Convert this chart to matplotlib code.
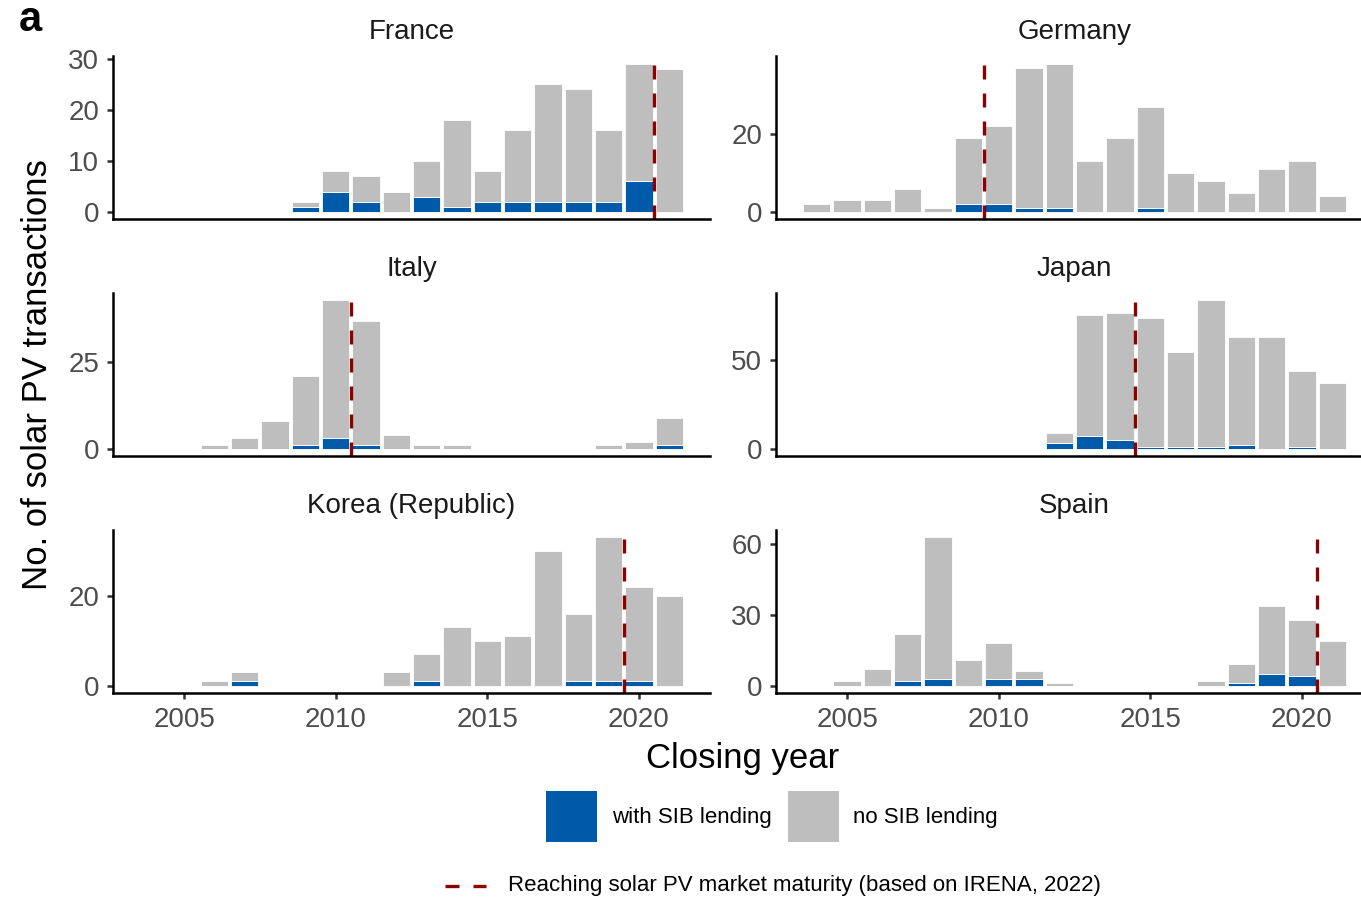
import numpy as np
import matplotlib
matplotlib.use('Agg')
import matplotlib.pyplot as plt
from matplotlib.patches import Rectangle
from matplotlib.lines import Line2D

plt.rcParams['font.family'] = ['Liberation Sans', 'DejaVu Sans']

W, H = 1361, 897

# closing years 2004 .. 2021
years = np.arange(2004, 2022)

countries = ['France', 'Germany', 'Italy', 'Japan', 'Korea (Republic)', 'Spain']

# transactions with / without SIB lending, one value per year
france_sib = [0, 0, 0, 0, 0, 1, 4, 2, 0, 3, 1, 2, 2, 2, 2, 2, 6, 0]
france_no = [0, 0, 0, 0, 0, 1, 4, 5, 4, 7, 17, 6, 14, 23, 22, 14, 23, 28]
germany_sib = [0, 0, 0, 0, 0, 2, 2, 1, 1, 0, 0, 1, 0, 0, 0, 0, 0, 0]
germany_no = [2, 3, 3, 6, 1, 17, 20, 36, 37, 13, 19, 26, 10, 8, 5, 11, 13, 4]
italy_sib = [0, 0, 0, 0, 0, 1, 3, 1, 0, 0, 0, 0, 0, 0, 0, 0, 0, 1]
italy_no = [0, 0, 1, 3, 8, 20, 40, 36, 4, 1, 1, 0, 0, 0, 0, 1, 2, 8]
japan_sib = [0, 0, 0, 0, 0, 0, 0, 0, 3, 7, 5, 1, 1, 1, 2, 0, 1, 0]
japan_no = [0, 0, 0, 0, 0, 0, 0, 0, 6, 69, 72, 73, 54, 83, 61, 63, 43, 37]
korea_sib = [0, 0, 0, 1, 0, 0, 0, 0, 0, 1, 0, 0, 0, 0, 1, 1, 1, 0]
korea_no = [0, 0, 1, 2, 0, 0, 0, 0, 3, 6, 13, 10, 11, 30, 15, 32, 21, 20]
spain_sib = [0, 0, 0, 2, 3, 0, 3, 3, 0, 0, 0, 0, 0, 0, 1, 5, 4, 0]
spain_no = [0, 2, 7, 20, 60, 11, 15, 3, 1, 0, 0, 0, 0, 2, 8, 29, 24, 19]

# market maturity (IRENA, 2022)
maturity_year = [2020.5, 2009.5, 2010.5, 2014.5, 2019.5, 2020.5]

y_ticks = [[0, 10, 20, 30], [0, 20], [0, 25], [0, 50], [0, 20], [0, 30, 60]]
x_ticks = [2005, 2010, 2015, 2020]

sib_counts = [france_sib, germany_sib, italy_sib, japan_sib, korea_sib, spain_sib]
no_counts = [france_no, germany_no, italy_no, japan_no, korea_no, spain_no]

SIB_COLOR = '#005AAA'
NO_SIB_COLOR = '#BEBEBE'
LINE_COLOR = '#8B0000'
TICK_COLOR = '#4D4D4D'

fig = plt.figure(figsize=(W / 100, H / 100), dpi=100)

# panel boxes in pixels
col_left = [113, 776]
row_top = [56.5, 293, 530]
panel_w = 597
panel_h = 163

x_lo, x_hi = 2002.655, 2022.345

for i, country in enumerate(countries):
    row, col = divmod(i, 2)
    ax = fig.add_axes([col_left[col] / W, 1 - (row_top[row] + panel_h) / H,
                       panel_w / W, panel_h / H])
    sib = np.array(sib_counts[i])
    no = np.array(no_counts[i])
    m = sib > 0
    ax.bar(years[m], sib[m], width=0.9, color=SIB_COLOR, edgecolor='white', linewidth=0.6)
    m = no > 0
    ax.bar(years[m], no[m], bottom=sib[m], width=0.9, color=NO_SIB_COLOR,
           edgecolor='white', linewidth=0.6)
    ax.axvline(maturity_year[i], color=LINE_COLOR, lw=2.4, dashes=(4.2, 4.2))

    ymax = (sib + no).max()
    ax.set_ylim(-0.05 * ymax, 1.05 * ymax)
    ax.set_xlim(x_lo, x_hi)
    ax.set_yticks(y_ticks[i])
    ax.set_xticks(x_ticks)

    for s in ['top', 'right']:
        ax.spines[s].set_visible(False)
    for s in ['left', 'bottom']:
        ax.spines[s].set_linewidth(1.8)
        ax.spines[s].set_color('black')

    ax.tick_params(axis='y', length=4, width=1.8, color='#333333',
                   labelsize=20, labelcolor=TICK_COLOR, pad=6)
    if row == 2:
        ax.tick_params(axis='x', length=4, width=1.8, color='#333333',
                       labelsize=20, labelcolor=TICK_COLOR, pad=6)
    else:
        ax.tick_params(axis='x', length=0, labelbottom=False)

    ax.set_title(country, fontsize=20, color='#1A1A1A', pad=12.5)

fig.text(19 / W, 1 - 31 / H, 'a', fontsize=30, fontweight='bold', va='baseline', ha='left')
fig.text(38 / W, 1 - 375 / H, 'No. of solar PV transactions', rotation=90,
         fontsize=25, va='center', ha='center')
fig.text(743 / W, 1 - 758 / H, 'Closing year', fontsize=25, va='center', ha='center')

# legend for the bars
fig.add_artist(Rectangle((546 / W, 1 - 842 / H), 51 / W, 51 / H,
                         transform=fig.transFigure, facecolor=SIB_COLOR, edgecolor='none'))
fig.text(612 / W, 1 - 817 / H, 'with SIB lending', fontsize=16, va='center', ha='left')
fig.add_artist(Rectangle((788 / W, 1 - 842 / H), 51 / W, 51 / H,
                         transform=fig.transFigure, facecolor=NO_SIB_COLOR, edgecolor='none'))
fig.text(853 / W, 1 - 817 / H, 'no SIB lending', fontsize=16, va='center', ha='left')

# legend for the maturity line
fig.add_artist(Line2D([445 / W, 486 / W], [1 - 886 / H, 1 - 886 / H],
                      transform=fig.transFigure, color=LINE_COLOR, lw=2.4, dashes=(4.2, 4.2)))
fig.text(508 / W, 1 - 885 / H, 'Reaching solar PV market maturity (based on IRENA, 2022)',
         fontsize=16, va='center', ha='left')

plt.savefig('out.png', dpi=100)
